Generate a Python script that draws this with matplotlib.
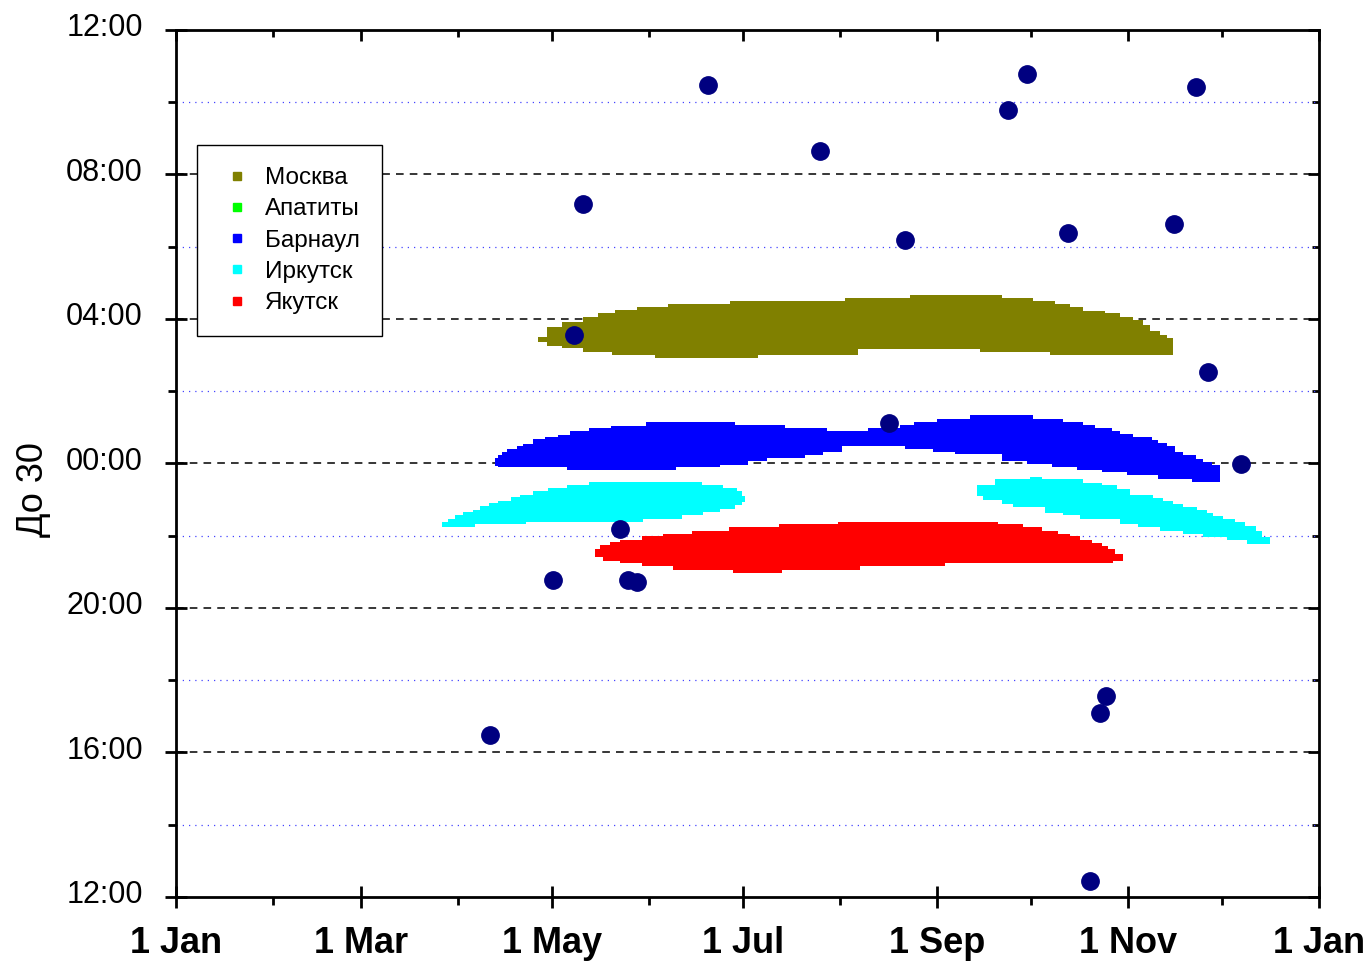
import matplotlib
matplotlib.use("Agg")
import matplotlib.pyplot as plt
import matplotlib.transforms as mtransforms
from matplotlib.lines import Line2D

# Day-of-year month starts used for the x axis
month_major_days = [0, 59, 120, 181, 243, 304, 365]
month_major_labels = ["1 Jan", "1 Mar", "1 May", "1 Jul", "1 Sep", "1 Nov", "1 Jan"]
month_minor_days = [31, 90, 151, 212, 273, 334]

# Hours relative to midnight (negative = evening before)
hour_major = [-12, -8, -4, 0, 4, 8, 12]
hour_minor = [-10, -6, -2, 2, 6, 10]

# Visibility bands: step edges (day where a value starts, last entry = end day)
moscow_up_days = [115.5, 118.4, 123.2, 129.9, 134.7, 140.1, 147.1, 157.0, 176.8, 213.5,
                  234.2, 263.6, 273.5, 280.5, 285.3, 289.4, 296.4, 301.2, 305.4, 308.6,
                  310.8, 314.0, 316.2, 318.1]
moscow_up = [3.49, 3.77, 3.91, 4.05, 4.16, 4.24, 4.32, 4.41, 4.49, 4.57,
             4.66, 4.57, 4.49, 4.41, 4.32, 4.21, 4.16, 4.05, 3.96, 3.82,
             3.68, 3.55, 3.46]
moscow_lo_days = [115.5, 118.4, 123.2, 129.9, 139.1, 152.8, 185.7, 217.6, 256.5, 278.9, 318.1]
moscow_lo = [3.35, 3.24, 3.19, 3.08, 2.99, 2.91, 2.99, 3.16, 3.08, 2.99]

barnaul_up_days = [101.8, 102.7, 104.0, 105.6, 108.8, 110.7, 113.9, 117.7, 121.9, 125.7,
                   131.8, 138.8, 150.0, 178.4, 194.3, 207.7, 220.8, 231.0, 235.5, 242.8,
                   253.3, 273.5, 283.0, 289.4, 293.2, 298.7, 301.2, 305.4, 311.4, 313.3,
                   316.2, 318.8, 321.3, 325.5, 327.7, 330.6, 333.1]
barnaul_up = [0.14, 0.22, 0.31, 0.39, 0.47, 0.55, 0.67, 0.72, 0.80, 0.89,
              0.97, 1.05, 1.16, 1.07, 0.99, 0.91, 0.99, 1.07, 1.16, 1.24,
              1.33, 1.24, 1.15, 1.07, 0.98, 0.90, 0.82, 0.73, 0.64, 0.56,
              0.47, 0.31, 0.22, 0.13, 0.05, -0.05]
barnaul_lo_days = [101.8, 102.7, 124.8, 159.5, 173.6, 182.5, 188.6, 200.7, 206.4, 212.5,
                   232.6, 241.5, 248.6, 256.5, 263.6, 271.5, 279.5, 287.5, 295.5, 303.4,
                   313.3, 324.2, 333.1]
barnaul_lo = [-0.06, -0.11, -0.17, -0.11, -0.04, 0.06, 0.15, 0.22, 0.31, 0.48,
              0.41, 0.33, 0.27, 0.25, 0.06, -0.01, -0.10, -0.19, -0.24, -0.33,
              -0.42, -0.50]

irkutsk1_up_days = [84.9, 86.8, 89.0, 91.6, 94.8, 97.0, 99.9, 102.7, 106.9, 109.8,
                    113.9, 118.7, 124.8, 131.8, 167.8, 174.5, 179.0, 180.6, 181.6]
irkutsk1_up = [-1.63, -1.53, -1.44, -1.35, -1.28, -1.19, -1.10, -1.03, -0.93, -0.86,
               -0.77, -0.69, -0.59, -0.52, -0.59, -0.69, -0.77, -0.90]
irkutsk1_lo_days = [84.9, 95.4, 111.7, 149.0, 161.5, 168.2, 173.6, 178.4, 180.6, 181.6]
irkutsk1_lo = [-1.77, -1.67, -1.61, -1.53, -1.44, -1.35, -1.26, -1.16, -1.06]

irkutsk2_up_days = [255.6, 261.3, 272.5, 276.3, 289.4, 295.5, 300.3, 304.4, 311.7, 314.9,
                    318.1, 321.3, 325.8, 329.0, 330.9, 334.1, 337.9, 341.1, 344.9, 346.8,
                    349.1]
irkutsk2_up = [-0.61, -0.44, -0.38, -0.44, -0.54, -0.61, -0.70, -0.87, -0.95, -1.03,
               -1.12, -1.21, -1.28, -1.37, -1.46, -1.53, -1.63, -1.72, -1.86, -2.04]
irkutsk2_lo_days = [255.6, 257.5, 263.6, 267.1, 277.3, 283.0, 288.4, 301.2, 307.0, 314.0,
                    321.3, 327.7, 335.4, 342.0, 349.1]
irkutsk2_lo = [-0.89, -1.01, -1.12, -1.21, -1.37, -1.44, -1.53, -1.67, -1.77, -1.86,
               -1.95, -2.04, -2.13, -2.23]

yakutsk_up_days = [133.7, 135.3, 138.5, 141.7, 148.7, 155.4, 164.6, 176.5, 192.4, 211.2,
                   262.3, 270.3, 276.3, 281.4, 285.3, 288.4, 292.3, 295.5, 297.4, 299.6,
                   302.2]
yakutsk_up = [-2.36, -2.27, -2.18, -2.11, -2.02, -1.95, -1.86, -1.77, -1.69, -1.61,
              -1.69, -1.77, -1.86, -1.95, -2.02, -2.11, -2.20, -2.29, -2.36, -2.50]
yakutsk_lo_days = [133.7, 136.2, 141.7, 148.7, 158.6, 177.7, 193.4, 218.3, 245.4, 299.0, 302.2]
yakutsk_lo = [-2.60, -2.69, -2.76, -2.83, -2.94, -3.02, -2.95, -2.83, -2.76, -2.69]

# Observed events
event_days = [100.2, 120.4, 127.0, 129.9, 141.7, 144.3, 147.0, 169.7, 205.5, 227.5, 232.6,
              265.5, 271.5, 284.6, 291.6, 294.8, 296.7, 318.4, 325.5, 329.4, 340.0]
event_hours = [-7.51, -3.22, 3.55, 7.18, -1.81, -3.24, -3.29, 10.48, 8.65, 1.12, 6.18,
               9.78, 10.78, 6.38, -11.56, -6.90, -6.43, 6.62, 10.42, 2.53, -0.01]

city_names = ["Москва", "Апатиты", "Барнаул", "Иркутск", "Якутск"]
city_colors = ["#808000", "#00FF00", "#0000FF", "#00FFFF", "#FF0000"]

plt.rcParams["font.family"] = ["Liberation Sans", "DejaVu Sans"]


def step_outline(edges, values):
    xs, ys = [], []
    for i, v in enumerate(values):
        xs += [edges[i], edges[i + 1]]
        ys += [v, v]
    return xs, ys


def draw_band(ax, up_days, up, lo_days, lo, color):
    ux, uy = step_outline(up_days, up)
    lx, ly = step_outline(lo_days, lo)
    ax.fill(ux + lx[::-1], uy + ly[::-1], color=color, lw=0, zorder=3)


fig = plt.figure(figsize=(13.71, 9.61), dpi=100)
ax = fig.add_axes([0.1286, 0.0667, 0.8338, 0.9021])

ax.set_xlim(0, 365)
ax.set_ylim(-12, 12)

# grid: dashed black at major hours, dotted blue at minor hours
for h in hour_major[1:-1]:
    ax.axhline(h, color="black", lw=1.1, ls=(0, (5, 4)), zorder=1)
for h in hour_minor:
    ax.axhline(h, color="#4444ff", lw=0.9, ls=(0, (1, 4)), zorder=1)

draw_band(ax, moscow_up_days, moscow_up, moscow_lo_days, moscow_lo, city_colors[0])
draw_band(ax, barnaul_up_days, barnaul_up, barnaul_lo_days, barnaul_lo, city_colors[2])
draw_band(ax, irkutsk1_up_days, irkutsk1_up, irkutsk1_lo_days, irkutsk1_lo, city_colors[3])
draw_band(ax, irkutsk2_up_days, irkutsk2_up, irkutsk2_lo_days, irkutsk2_lo, city_colors[3])
draw_band(ax, yakutsk_up_days, yakutsk_up, yakutsk_lo_days, yakutsk_lo, city_colors[4])

ax.plot(event_days, event_hours, "o", color="#000080", ms=12.5, mec="#000080", zorder=5)

# axes styling
for sp in ax.spines.values():
    sp.set_linewidth(2.0)

ax.set_xticks(month_major_days)
ax.set_xticklabels(month_major_labels, fontsize=26, fontweight="bold")
ax.set_xticks(month_minor_days, minor=True)
ax.set_yticks(hour_major)
ax.set_yticklabels([f"{int(h % 24):02d}:00" for h in hour_major], fontsize=22)
ax.set_yticks(hour_minor, minor=True)

ax.tick_params(which="major", direction="inout", length=16, width=2.0)
ax.tick_params(which="minor", direction="out", length=6, width=2.0)
ax.tick_params(axis="x", which="major", pad=13)
ax.tick_params(axis="y", which="major", pad=16)

# hour labels sit slightly above their ticks
lift = mtransforms.ScaledTranslation(0, 0.05, fig.dpi_scale_trans)
for lbl in ax.get_yticklabels():
    lbl.set_transform(lbl.get_transform() + lift)

# mirrored inward ticks on top and right
ax_top = ax.secondary_xaxis("top")
ax_top.set_xticks(month_major_days)
ax_top.set_xticks(month_minor_days, minor=True)
ax_top.tick_params(which="major", direction="in", length=8, width=2.0, labeltop=False)
ax_top.tick_params(which="minor", direction="in", length=5, width=2.0)
ax_right = ax.secondary_yaxis("right")
ax_right.set_yticks(hour_major)
ax_right.set_yticks(hour_minor, minor=True)
ax_right.tick_params(which="major", direction="in", length=8, width=2.0, labelright=False)
ax_right.tick_params(which="minor", direction="in", length=5, width=2.0)

ax.set_ylabel("До 30", fontsize=26)
ax.yaxis.set_label_coords(-0.110, 0.47)

handles = [Line2D([], [], ls="none", marker="s", ms=6, color=c, mec=c) for c in city_colors]
leg = ax.legend(handles, city_names, loc="upper left", bbox_to_anchor=(0.018, 0.867),
                borderaxespad=0, fontsize=17.5, frameon=True, fancybox=False,
                framealpha=1, edgecolor="black", borderpad=0.9, handlelength=1.5,
                handletextpad=0.4, labelspacing=0.38)
leg.get_frame().set_linewidth(1.0)
leg.set_zorder(6)

fig.savefig("out.png", dpi=100)
